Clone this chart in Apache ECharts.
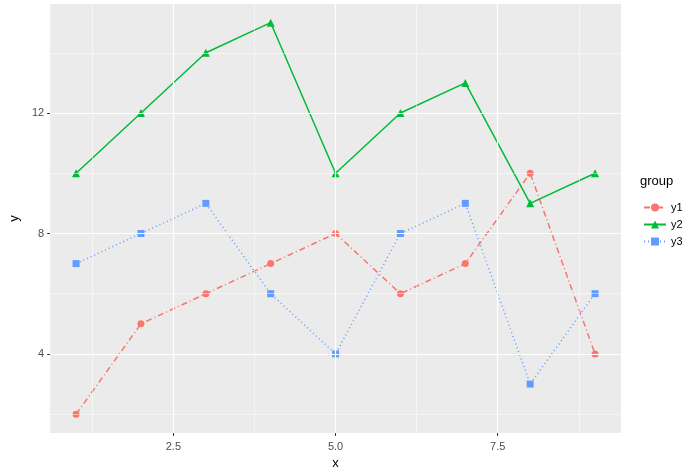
<!DOCTYPE html><html><head><meta charset="utf-8"><script src="https://cdn.jsdelivr.net/npm/echarts@6/dist/echarts.min.js"></script></head><body style="margin:0"><div id="c" style="width:691px;height:475px"></div><script>
const xs=[1,2,3,4,5,6,7,8,9];
const y1=[2,5,6,7,8,6,7,10,4];
const y2=[10,12,14,15,10,12,13,9,10];
const y3=[7,8,9,6,4,8,9,3,6];
const xMajor=[2.5,5,7.5], xMinor=[1.25,3.75,6.25,8.75];
const yMajor=[4,8,12], yMinor=[2,6,10,14];
const pair=a=>xs.map((x,i)=>[x,a[i]]);
const ml=(vals,key,w)=>vals.map(v=>({[key]:v,lineStyle:{color:'#fff',width:w,type:'solid'}}));
const c=echarts.init(document.getElementById('c'));
const lab={color:'#4D4D4D',fontSize:11,fontFamily:'Arial'};
c.setOption({animation:false,
grid:{left:38,right:70,top:4,bottom:42,show:true,backgroundColor:'#EBEBEB',borderWidth:0},
xAxis:{type:'value',min:0.6,max:9.4,name:'x',nameLocation:'middle',nameGap:22,nameTextStyle:{color:'#000',fontSize:13,fontFamily:'Arial'},
 axisLine:{show:false},splitLine:{show:false},axisTick:{customValues:xMajor,length:3,lineStyle:{color:'#333'}},
 axisLabel:Object.assign({customValues:xMajor,formatter:v=>v.toFixed(1)},lab)},
yAxis:{type:'value',min:1.375,max:15.62,name:'y',nameLocation:'middle',nameGap:26,nameTextStyle:{color:'#000',fontSize:13,fontFamily:'Arial'},
 axisLine:{show:false},splitLine:{show:false},axisTick:{show:true,customValues:yMajor,length:3,lineStyle:{color:'#333'}},
 axisLabel:Object.assign({customValues:yMajor,margin:6},lab)},
legend:{orient:'vertical',left:638,top:197,itemGap:6,itemWidth:22,itemHeight:10,textStyle:{fontSize:11,fontFamily:'Arial',color:'#000'},data:['y1','y2','y3']},
graphic:[{type:'text',left:640,top:175,style:{text:'group',fontSize:13,fontFamily:'Arial',fill:'#000'}}],
series:[
{type:'line',data:[],silent:true,markLine:{silent:true,symbol:'none',label:{show:false},animation:false,
 data:[...ml(xMinor,'xAxis',0.5),...ml(yMinor,'yAxis',0.5),...ml(xMajor,'xAxis',1.2),...ml(yMajor,'yAxis',1.2)]}},
{name:'y1',type:'line',data:pair(y1),color:'#F8766D',symbol:'circle',symbolSize:7,lineStyle:{width:1.5,type:[6,3,1,3]}},
{name:'y2',type:'line',data:pair(y2),color:'#00BA38',symbol:'triangle',symbolSize:8,lineStyle:{width:1.5}},
{name:'y3',type:'line',data:pair(y3),color:'#619CFF',symbol:'rect',symbolSize:7,lineStyle:{width:1.5,type:[1,3]}}
]});
</script></body></html>
